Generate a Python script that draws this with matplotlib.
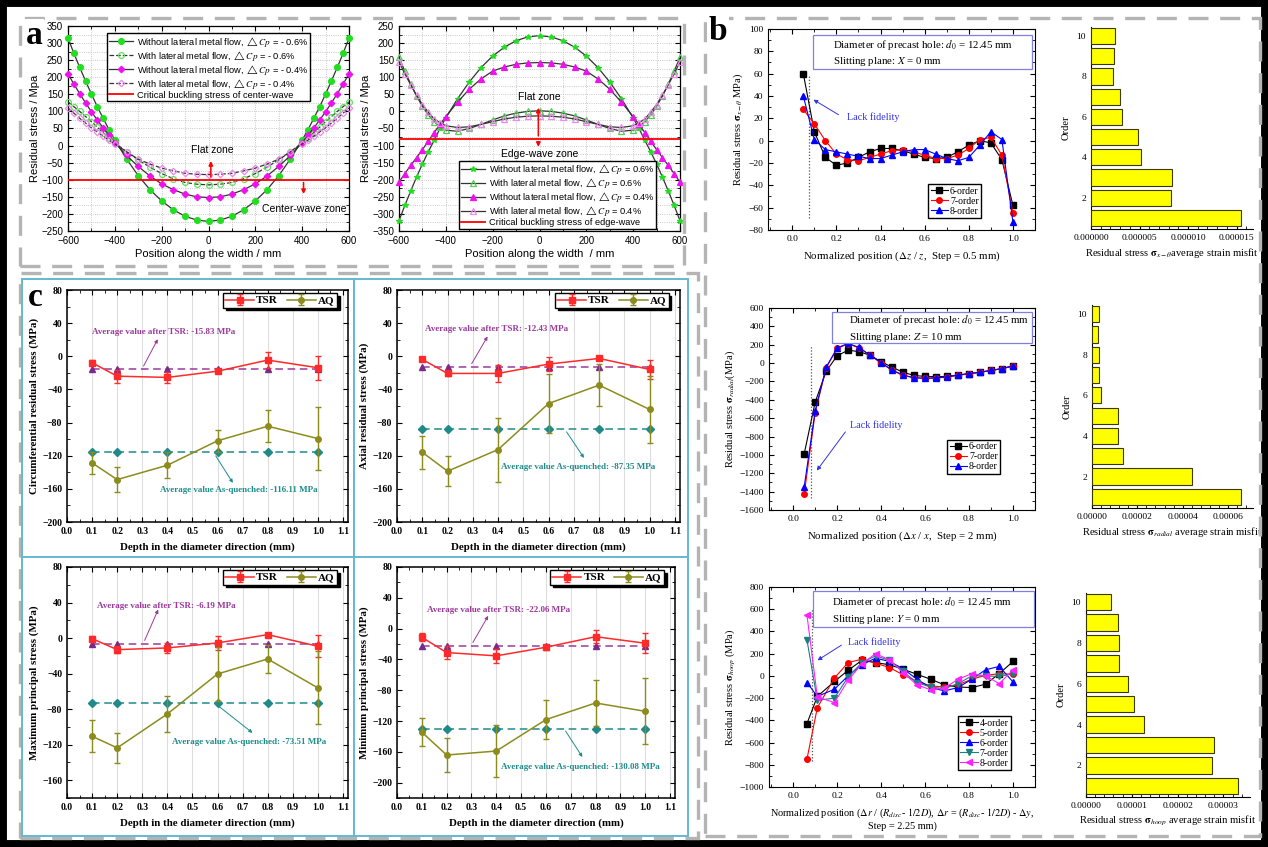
import matplotlib

matplotlib.use("Agg")
import matplotlib.pyplot as plt
from matplotlib.lines import Line2D
from matplotlib.patches import Rectangle
from matplotlib.ticker import FormatStrFormatter, MultipleLocator

W, H = 1268, 847
SANS = ["Liberation Sans", "DejaVu Sans"]
SERIF = ["Liberation Serif", "DejaVu Serif"]

# ---------------- panel a: residual stress along the width ----------------
A_X = [-600, -575, -550, -525, -500, -475, -450, -425, -400, -350, -300, -250, -200, -150, -100, -50, 0,
       50, 100, 150, 200, 250, 300, 350, 400, 425, 450, 475, 500, 525, 550, 575, 600]
A_CENTER_NO_FLOW_06 = [315, 270, 229, 189, 151, 114, 80, 47, 16, -39, -88, -129, -162, -188, -207, -218, -222,
                       -218, -207, -188, -162, -129, -88, -39, 16, 47, 80, 114, 151, 189, 229, 270, 315]
A_CENTER_FLOW_06 = [128, 114, 100, 85, 70, 54, 38, 23, 8, -18, -42, -63, -82, -97, -108, -113, -115,
                    -113, -108, -97, -82, -63, -42, -18, 8, 23, 38, 54, 70, 85, 100, 114, 128]
A_CENTER_NO_FLOW_04 = [210, 180, 152, 125, 99, 75, 52, 30, 9, -29, -61, -89, -112, -129, -142, -150, -152,
                       -150, -142, -129, -112, -89, -61, -29, 9, 30, 52, 75, 99, 125, 152, 180, 210]
A_CENTER_FLOW_04 = [110, 95, 80, 66, 52, 40, 28, 16, 5, -18, -40, -54, -66, -74, -81, -84, -85,
                    -84, -81, -74, -66, -54, -40, -18, 5, 16, 28, 40, 52, 66, 80, 95, 110]
A_EDGE_NO_FLOW_06 = [-320, -275, -233, -192, -154, -118, -85, -50, -19, 37, 86, 128, 162, 188, 207, 218, 222,
                     218, 207, 188, 162, 128, 86, 37, -19, -50, -85, -118, -154, -192, -233, -275, -320]
A_EDGE_FLOW_06 = [158, 118, 80, 45, 15, -10, -30, -45, -55, -58, -50, -38, -25, -13, -5, 0, 2,
                  0, -5, -13, -25, -38, -50, -58, -55, -45, -30, -10, 15, 45, 80, 118, 158]
A_EDGE_NO_FLOW_04 = [-207, -182, -158, -135, -112, -87, -62, -38, -15, 27, 65, 95, 118, 130, 138, 142, 143,
                     142, 138, 130, 118, 95, 65, 27, -15, -38, -62, -87, -112, -135, -158, -182, -207]
A_EDGE_FLOW_04 = [145, 110, 78, 47, 20, -2, -22, -33, -42, -47, -45, -38, -30, -22, -17, -14, -13,
                  -14, -17, -22, -30, -38, -45, -47, -42, -33, -22, -2, 20, 47, 78, 110, 145]
A_CRIT_CENTER = -100
A_CRIT_EDGE = -80

# ---------------- panel b: slitting results ----------------
B1_X = [0.05, 0.1, 0.15, 0.2, 0.25, 0.3, 0.35, 0.4, 0.45, 0.5, 0.55, 0.6, 0.65, 0.7, 0.75, 0.8, 0.85, 0.9, 0.95, 1.0]
B1_ORDER6 = [60, 8, -15, -22, -20, -15, -10, -7, -7, -9, -12, -15, -16, -15, -10, -4, 0, -2, -17, -58]
B1_ORDER7 = [28, 15, 0, -12, -17, -18, -15, -12, -9, -8, -10, -13, -16, -16, -13, -7, 1, 3, -13, -65]
B1_ORDER8 = [40, 1, -8, -10, -12, -14, -16, -16, -13, -10, -8, -8, -12, -16, -18, -15, -4, 8, 1, -73]

B2_ORDER6 = [-990, -425, -90, 80, 140, 125, 85, 15, -45, -100, -135, -145, -148, -145, -130, -115, -100, -80, -60, -30]
B2_ORDER7 = [-1430, -540, -50, 160, 210, 165, 85, 0, -80, -135, -160, -165, -165, -150, -135, -115, -100, -80, -60, -35]
B2_ORDER8 = [-1350, -520, -45, 165, 215, 170, 85, 5, -75, -130, -160, -165, -160, -150, -130, -115, -100, -80, -60, -30]

B3_X = [0.0625, 0.11, 0.1875, 0.25, 0.3125, 0.375, 0.4375, 0.5, 0.5625, 0.625, 0.6875, 0.75, 0.8125, 0.875, 0.9375, 1.0]
B3_ORDER4 = [-430, -185, -50, 50, 140, 120, 100, 60, 15, -30, -80, -100, -105, -75, 20, 130]
B3_ORDER5 = [-750, -285, -20, 120, 150, 115, 75, 10, -50, -90, -100, -80, -30, 5, 20, 15]
B3_ORDER6 = [-60, -185, -120, 0, 100, 160, 130, 65, -30, -105, -135, -105, -30, 55, 85, -55]
B3_ORDER7 = [325, -220, -200, -10, 120, 180, 140, 40, -60, -100, -115, -70, 0, 0, -5, 20]
B3_ORDER8 = [550, -190, -240, -40, 110, 200, 145, 30, -80, -125, -110, -30, 20, 0, -70, 55]

ORDERS = [1, 2, 3, 4, 5, 6, 7, 8, 9, 10]
MISFIT_XTHETA = [15.5e-6, 8.2e-6, 8.3e-6, 5.2e-6, 4.8e-6, 3.2e-6, 2.95e-6, 2.26e-6, 2.4e-6, 2.47e-6]
MISFIT_RADIAL = [6.58e-5, 4.39e-5, 1.36e-5, 1.13e-5, 1.14e-5, 4.1e-6, 2.9e-6, 2.9e-6, 2.6e-6, 2.9e-6]
MISFIT_HOOP = [3.31e-5, 2.74e-5, 2.8e-5, 1.27e-5, 1.05e-5, 0.92e-5, 0.73e-5, 0.72e-5, 0.70e-5, 0.54e-5]

# ---------------- panel c: TSR vs AQ ----------------
C_DEPTH = [0.1, 0.2, 0.4, 0.6, 0.8, 1.0]
C_TSR = {
    "circ": [-7.8, -24, -25.5, -18, -4.6, -13.8],
    "axial": [-3.8, -20.7, -20.7, -9.4, -2.6, -15.9],
    "max": [-0.6, -13, -11.1, -5.5, 3.9, -9.2],
    "min": [-11.3, -31.1, -35.4, -24.2, -10.5, -19],
}
C_TSR_ERR = {
    "circ": [3, 8, 6.6, 2, 10, 14.7],
    "axial": [2, 3, 10, 8.7, 2, 12],
    "max": [3, 4, 6, 8.4, 2, 12.5],
    "min": [5, 9, 9, 3, 8.6, 13],
}
C_AQ = {
    "circ": [-128.7, -148.8, -131.5, -102, -84.4, -99.3],
    "axial": [-115.8, -138.7, -112.6, -57, -34.8, -64.2],
    "max": [-110.5, -123.6, -85.4, -40.4, -23.5, -56.1],
    "min": [-134.5, -164.2, -159, -118.2, -96.6, -107.4],
}
C_AQ_ERR = {
    "circ": [13.7, 15, 16, 13.5, 19, 37.5],
    "axial": [20, 18, 38.7, 36, 25.6, 41],
    "max": [17.8, 17, 20, 30, 16, 41],
    "min": [18.3, 21.5, 33.8, 25.4, 30, 42.6],
}
C_TSR_AVG = {"circ": -15.83, "axial": -12.43, "max": -6.19, "min": -22.06}
C_AQ_AVG = {"circ": -116.11, "axial": -87.35, "max": -73.51, "min": -130.08}
C_YLABEL = {
    "circ": "Circumferential residual stress (MPa)",
    "axial": "Axial residual stress (MPa)",
    "max": "Maximum principal stress (MPa)",
    "min": "Minimum principal stress (MPa)",
}


def add_ax(fig, x0, y0, x1, y1):
    return fig.add_axes([x0 / W, 1 - y1 / H, (x1 - x0) / W, (y1 - y0) / H])


def fig_rect(fig, x0, y0, x1, y1, **kw):
    fig.add_artist(Rectangle((x0 / W, 1 - y1 / H), (x1 - x0) / W, (y1 - y0) / H,
                             transform=fig.transFigure, fill=False, **kw))


def fig_line(fig, xs, ys, **kw):
    fig.add_artist(Line2D([x / W for x in xs], [1 - y / H for y in ys], transform=fig.transFigure, **kw))


def style_ticks(ax, size, family, weight="normal"):
    ax.tick_params(which="both", direction="in", top=True, right=True, labelsize=size)
    ax.tick_params(which="major", length=3.5, width=0.8)
    ax.tick_params(which="minor", length=2, width=0.6)
    for lab in ax.get_xticklabels() + ax.get_yticklabels():
        lab.set_family(family)
        lab.set_weight(weight)


def panel_a(ax, series, crit, crit_label, ylim, dashed, loc, anchor):
    green, magenta = "#22dd22", "#ee11ee"
    if dashed:
        specs = [("o", green, green, "-"), ("o", "none", "#66dd66", "--"),
                 ("D", magenta, magenta, "-"), ("D", "none", "#ee88ee", "--")]
    else:
        specs = [("*", green, green, "-"), ("^", "none", "#55cc55", "-"),
                 ("^", magenta, magenta, "-"), ("^", "none", "#ee88ee", "-")]
    for (ys, label), (mk, mfc, mec, ls) in zip(series, specs):
        ax.plot(A_X, ys, color="#333333", lw=0.9, ls=ls, marker=mk, ms=4.2 if mk != "D" else 3.3,
                mfc=mfc, mec=mec, mew=0.9, label=label, clip_on=False, zorder=3)
    ax.axhline(crit, color="red", lw=1.3, label=crit_label, zorder=4)
    ax.set_xlim(-600, 600)
    ax.set_ylim(*ylim)
    ax.xaxis.set_major_locator(MultipleLocator(200))
    ax.xaxis.set_minor_locator(MultipleLocator(100))
    ax.yaxis.set_major_locator(MultipleLocator(50))
    ax.yaxis.set_minor_locator(MultipleLocator(25))
    ax.grid(which="both", ls=":", color="#b8b8b8", lw=0.6)
    style_ticks(ax, 7, SANS)
    ax.set_ylabel("Residual stress / Mpa", fontsize=8, family=SANS, labelpad=1)
    ax.legend(loc=loc, bbox_to_anchor=anchor, prop={"family": SANS, "size": 6.7},
              frameon=True, fancybox=False, edgecolor="black", handlelength=2.6, borderpad=0.15,
              labelspacing=0.0, handletextpad=0.4, framealpha=1, borderaxespad=0)
    for sp in ax.spines.values():
        sp.set_linewidth(0.9)


def panel_b_line(ax, x, series, ylim, major, info, plane, lack_text, lack_arrow, dotted, leg_anchor,
                 ylabel, xlabel, box):
    for ys, label, color, mk in series:
        ax.plot(x, ys, color=color, lw=0.8, marker=mk, ms=4, mfc=color, mec=color, label=label, zorder=3)
    ax.set_xlim(-0.11, 1.1)
    ax.set_ylim(*ylim)
    ax.xaxis.set_major_locator(MultipleLocator(0.2))
    ax.xaxis.set_minor_locator(MultipleLocator(0.1))
    ax.yaxis.set_major_locator(MultipleLocator(major))
    ax.yaxis.set_minor_locator(MultipleLocator(major / 2))
    ax.xaxis.set_major_formatter(FormatStrFormatter("%.1f"))
    style_ticks(ax, 6.8, SERIF)
    ax.plot(dotted[0], dotted[1], ls=(0, (1, 1.5)), color="#555555", lw=0.9, zorder=2)
    ax.annotate("", xy=lack_arrow[0], xytext=lack_arrow[1],
                arrowprops=dict(arrowstyle="-|>", color="#3333dd", lw=0.7, mutation_scale=6))
    ax.text(lack_text[0], lack_text[1], "Lack fidelity", color="#3333dd", fontsize=7.3,
            family=SERIF, va="center")
    ax.add_patch(Rectangle((box[0], box[1]), box[2] - box[0], box[3] - box[1], transform=ax.transAxes,
                           fill=True, fc="white", ec="#8080e0", lw=0.9, zorder=4))
    ax.text(box[4], box[5], info, transform=ax.transAxes, fontsize=7.8, family=SERIF, va="center", zorder=5)
    ax.text(box[4], box[6], plane, transform=ax.transAxes, fontsize=7.8, family=SERIF, va="center", zorder=5)
    ax.legend(loc="lower left", bbox_to_anchor=leg_anchor, prop={"family": SERIF, "size": 7},
              frameon=True, fancybox=False, edgecolor="black", handlelength=1.8, borderpad=0.25,
              labelspacing=0.1, handletextpad=0.2, borderaxespad=0, framealpha=1)
    ax.set_ylabel(ylabel, fontsize=7.6, family=SERIF, labelpad=2)
    ax.set_xlabel(xlabel, fontsize=7.8, family=SERIF, labelpad=5)


def panel_b_bar(ax, values, xmax, major, fmt, xlabel):
    ax.barh(ORDERS, values, height=0.8, color="#ffff00", edgecolor="#3a3a00", lw=0.8, zorder=3)
    ax.set_xlim(0, xmax)
    ax.set_ylim(0.45, 10.45)
    ax.yaxis.set_major_locator(MultipleLocator(2))
    ax.yaxis.set_minor_locator(MultipleLocator(1))
    ax.xaxis.set_major_locator(MultipleLocator(major))
    ax.xaxis.set_minor_locator(MultipleLocator(major / 5))
    ax.xaxis.set_major_formatter(FormatStrFormatter(fmt))
    ax.spines["top"].set_visible(False)
    ax.spines["right"].set_visible(False)
    ax.tick_params(which="both", direction="in", labelsize=6.8)
    ax.tick_params(which="major", length=3)
    ax.tick_params(which="minor", length=2)
    for lab in ax.get_xticklabels() + ax.get_yticklabels():
        lab.set_family(SERIF)
    ax.set_ylabel("Order", fontsize=7.6, family=SERIF, labelpad=4)
    ax.set_xlabel(xlabel, fontsize=7.6, family=SERIF, labelpad=3)


def panel_c(ax, key, ylim, tsr_txt, tsr_arrow, aq_txt, aq_arrow):
    red, olive, purple, teal = "#ff2a2a", "#8c8c1e", "#9b3a9b", "#1f8c8c"
    ax.plot(C_DEPTH, [C_TSR_AVG[key]] * len(C_DEPTH), ls=(0, (5, 3)), color=purple, lw=1.1,
            marker="^", ms=4.5, mfc="#7a2a8a", mec="#7a2a8a", zorder=3)
    ax.plot(C_DEPTH, [C_AQ_AVG[key]] * len(C_DEPTH), ls=(0, (5, 3)), color=teal, lw=1.1,
            marker="D", ms=3.8, mfc="#208a8a", mec="#208a8a", zorder=3)
    ax.errorbar(C_DEPTH, C_TSR[key], yerr=C_TSR_ERR[key], color=red, lw=1.1, marker="s", ms=4,
                capsize=2.5, elinewidth=1, label="TSR", zorder=4)
    ax.errorbar(C_DEPTH, C_AQ[key], yerr=C_AQ_ERR[key], color=olive, lw=1.1, marker="o", ms=4,
                capsize=2.5, elinewidth=1, label="AQ", zorder=4)
    ax.set_xlim(0, 1.12)
    ax.set_ylim(*ylim)
    ax.set_xticks([0.0, 0.1, 0.2, 0.3, 0.4, 0.5, 0.6, 0.7, 0.8, 0.9, 1.0, 1.1])
    ax.xaxis.set_minor_locator(MultipleLocator(0.05))
    ax.xaxis.set_major_formatter(FormatStrFormatter("%.1f"))
    ax.yaxis.set_major_locator(MultipleLocator(40))
    ax.yaxis.set_minor_locator(MultipleLocator(20))
    ax.grid(axis="x", which="major", color="#dddddd", lw=0.8)
    style_ticks(ax, 7, SERIF, "bold")
    ax.annotate("", xy=tsr_arrow[1], xytext=tsr_arrow[0],
                arrowprops=dict(arrowstyle="-|>", color=purple, lw=0.7, mutation_scale=5))
    ax.annotate("", xy=aq_arrow[1], xytext=aq_arrow[0],
                arrowprops=dict(arrowstyle="-|>", color=teal, lw=0.7, mutation_scale=5))
    ax.text(tsr_txt[0], tsr_txt[1], f"Average value after TSR: {C_TSR_AVG[key]:.2f} MPa", color=purple,
            fontsize=6.5, family=SERIF, weight="bold", va="center")
    ax.text(aq_txt[0], aq_txt[1], f"Average value As-quenched: {C_AQ_AVG[key]:.2f} MPa", color=teal,
            fontsize=6.5, family=SERIF, weight="bold", va="center")
    ax.legend(loc="upper right", bbox_to_anchor=(0.96, 0.985), ncol=2,
              prop={"family": SERIF, "size": 8, "weight": "bold"}, frameon=True, fancybox=False,
              edgecolor="black", shadow={"facecolor": "black", "edgecolor": "black", "alpha": 1},
              handlelength=2.6, borderpad=0.2, columnspacing=0.8, handletextpad=0.2, framealpha=1,
              borderaxespad=0)
    ax.set_ylabel(C_YLABEL[key], fontsize=7.8, family=SERIF, weight="bold", labelpad=2)
    ax.set_xlabel("Depth in the diameter direction (mm)", fontsize=7.8, family=SERIF, weight="bold",
                  labelpad=5)
    for sp in ax.spines.values():
        sp.set_linewidth(1.1)


def main():
    plt.rcParams["font.family"] = SANS
    plt.rcParams["mathtext.fontset"] = "stix"
    plt.rcParams["axes.unicode_minus"] = True
    fig = plt.figure(figsize=(W / 100, H / 100), dpi=100)

    # frames
    fig_rect(fig, 0, 0, W, H, ec="black", lw=10)
    dash = dict(ec="#b4b4b4", lw=2.4, ls=(0, (6, 3.5)))
    fig_rect(fig, 20, 18, 684, 266, **dash)
    fig_rect(fig, 20, 273, 698, 838, **dash)
    fig_rect(fig, 705, 18, 1260, 836, **dash)
    cyan = dict(color="#63b9d1", lw=1.4)
    fig_rect(fig, 22, 279, 688, 836, ec=cyan["color"], lw=cyan["lw"])
    fig_line(fig, [354, 354], [279, 836], **cyan)
    fig_line(fig, [22, 688], [557, 557], **cyan)

    # panel a
    dcp = r"$\triangle Cp$"
    ax = add_ax(fig, 68, 26, 349, 231)
    panel_a(ax, [
        (A_CENTER_NO_FLOW_06, f"Without lateral metal flow, {dcp} = - 0.6%"),
        (A_CENTER_FLOW_06, f"With lateral metal flow, {dcp} = - 0.6%"),
        (A_CENTER_NO_FLOW_04, f"Without lateral metal flow, {dcp} = - 0.4%"),
        (A_CENTER_FLOW_04, f"With lateral metal flow, {dcp} = - 0.4%"),
    ], A_CRIT_CENTER, "Critical buckling stress of center-wave", (-250, 350), True,
        "upper center", (0.5, 0.965))
    ax.set_xlabel("Position along the width / mm", fontsize=8, family=SANS, labelpad=2)
    ax.annotate("", xy=(10, -37), xytext=(10, A_CRIT_CENTER),
                arrowprops=dict(arrowstyle="-|>", color="red", lw=1.1, mutation_scale=6))
    ax.text(15, -14, "Flat zone", fontsize=7.5, family=SANS, ha="center", va="center")
    ax.annotate("", xy=(406, -150), xytext=(406, A_CRIT_CENTER),
                arrowprops=dict(arrowstyle="-|>", color="red", lw=1.1, mutation_scale=6))
    ax.text(410, -186, "Center-wave zone", fontsize=7.5, family=SANS, ha="center", va="center")

    ax = add_ax(fig, 399, 26, 680, 231)
    panel_a(ax, [
        (A_EDGE_NO_FLOW_06, f"Without lateral metal flow, {dcp} = 0.6%"),
        (A_EDGE_FLOW_06, f"With lateral metal flow, {dcp} = 0.6%"),
        (A_EDGE_NO_FLOW_04, f"Without lateral metal flow, {dcp} = 0.4%"),
        (A_EDGE_FLOW_04, f"With lateral metal flow, {dcp} = 0.4%"),
    ], A_CRIT_EDGE, "Critical buckling stress of edge-wave", (-350, 250), False,
        "lower center", (0.565, 0.012))
    ax.set_xlabel("Position along the width  / mm", fontsize=8, family=SANS, labelpad=2)
    ax.annotate("", xy=(-5, 19), xytext=(-5, A_CRIT_EDGE),
                arrowprops=dict(arrowstyle="-|>", color="red", lw=1.1, mutation_scale=6))
    ax.annotate("", xy=(-5, -112), xytext=(-5, A_CRIT_EDGE),
                arrowprops=dict(arrowstyle="-|>", color="red", lw=1.1, mutation_scale=6))
    ax.text(0, 43, "Flat zone", fontsize=7.5, family=SANS, ha="center", va="center")
    ax.text(0, -126, "Edge-wave zone", fontsize=7.5, family=SANS, ha="center", va="center", zorder=6)

    # panel b
    info = "Diameter of precast hole: $d_0$ = 12.45 mm"
    ax = add_ax(fig, 768, 29, 1035, 230)
    panel_b_line(ax, B1_X, [(B1_ORDER6, "6-order", "black", "s"), (B1_ORDER7, "7-order", "red", "o"),
                            (B1_ORDER8, "8-order", "blue", "^")],
                 (-80, 100), 20, info, "Slitting plane: $X$ = 0 mm", (0.25, 21),
                 ((0.085, 38), (0.22, 22)), ([0.078, 0.078], [-69, 59]), (0.6, 0.06),
                 r"Residual stress $\mathbf{\sigma}_{x-\theta}$ MPa)",
                 r"Normalized position ($\Delta z$ / $z$,  Step = 0.5 mm)",
                 (0.17, 0.80, 0.99, 0.97, 0.245, 0.92, 0.836))
    ax = add_ax(fig, 1091, 27, 1253, 229)
    panel_b_bar(ax, MISFIT_XTHETA, 1.67e-5, 5e-6, "%.6f",
                r"Residual stress $\mathbf{\sigma}_{x-\theta}$average strain misfit")

    ax = add_ax(fig, 769, 308, 1035, 510)
    panel_b_line(ax, B1_X, [(B2_ORDER6, "6-order", "black", "s"), (B2_ORDER7, "7-order", "red", "o"),
                            (B2_ORDER8, "8-order", "blue", "^")],
                 (-1600, 600), 200, info, "Slitting plane: $Z$ = 10 mm", (0.26, -673),
                 ((0.10, -1195), (0.245, -725)), ([0.08, 0.08], [-1470, 200]), (0.67, 0.18),
                 r"Residual stress $\mathbf{\sigma}_{radial}$(MPa)",
                 r"Normalized position ($\Delta x$ / $x$,  Step = 2 mm)",
                 (0.236, 0.827, 0.99, 0.98, 0.30, 0.94, 0.856))
    ax = add_ax(fig, 1092, 305, 1253, 508)
    panel_b_bar(ax, MISFIT_RADIAL, 7.1e-5, 2e-5, "%.5f",
                r"Residual stress $\mathbf{\sigma}_{radial}$ average strain misfit")

    ax = add_ax(fig, 769, 587, 1035, 787)
    panel_b_line(ax, B3_X, [(B3_ORDER4, "4-order", "black", "s"), (B3_ORDER5, "5-order", "red", "o"),
                            (B3_ORDER6, "6-order", "blue", "^"), (B3_ORDER7, "7-order", "#1a7f7f", "v"),
                            (B3_ORDER8, "8-order", "#ff22ff", "<")],
                 (-1000, 800), 200, info, "Slitting plane: $Y$ = 0 mm", (0.25, 300),
                 ((0.10, 127), (0.23, 290)), ([0.085, 0.085], [-770, 600]), (0.71, 0.085),
                 r"Residual stress $\mathbf{\sigma}_{hoop}$ (MPa)",
                 r"Normalized position ($\Delta r$ / ($R_{disc}$- $1/2D$), $\Delta r$ = ($R_{disc}$- $1/2D$) - $\Delta y$,"
                 "\nStep = 2.25 mm)",
                 (0.165, 0.80, 0.996, 0.98, 0.237, 0.925, 0.84))
    ax.xaxis.label.set_fontsize(7.4)
    ax = add_ax(fig, 1086, 593, 1250, 797)
    panel_b_bar(ax, MISFIT_HOOP, 3.58e-5, 1e-5, "%.5f",
                r"Residual stress $\mathbf{\sigma}_{hoop}$ average strain misfit")

    # panel c
    ax = add_ax(fig, 67, 290, 348, 522)
    panel_c(ax, "circ", (-200, 80), (0.1, 29.6), ((0.30, -14.7), (0.367, 23.6)),
            (0.37, -161.7), ((0.587, -117.4), (0.667, -155.6)))
    ax = add_ax(fig, 397, 290, 680, 522)
    panel_c(ax, "axial", (-200, 80), (0.11, 32.5), ((0.29, -11.8), (0.364, 26.8)),
            (0.41, -134), ((0.665, -88.4), (0.746, -125.5)))
    ax = add_ax(fig, 67, 567, 348, 798)
    panel_c(ax, "max", (-180, 80), (0.12, 36.5), ((0.305, -5.5), (0.368, 35)),
            (0.417, -116.8), ((0.596, -74.8), (0.748, -108.6)))
    ax = add_ax(fig, 397, 567, 675, 798)
    panel_c(ax, "min", (-220, 80), (0.12, 24), ((0.30, -21.2), (0.373, 19.7)),
            (0.42, -179.3), ((0.673, -130), (0.753, -169.8)))

    # panel letters
    for letter, x, y in (("a", 34, 36), ("b", 718, 32), ("c", 35, 297)):
        fig.text(x / W, 1 - y / H, letter, fontsize=24, weight="bold", family=SERIF, ha="center",
                 va="center", bbox=dict(fc="white", ec="none", pad=1))

    fig.savefig("out.png", dpi=100)
    plt.close(fig)


if __name__ == "__main__":
    main()
